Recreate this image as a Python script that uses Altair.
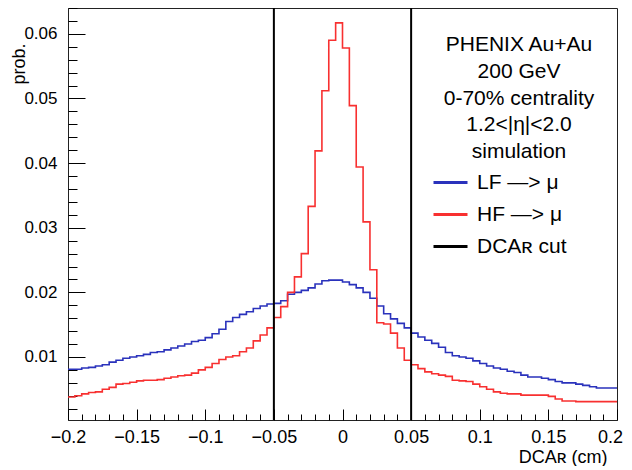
import altair as alt
import pandas as pd

# ---------------- data ----------------
x_min, x_max = -0.2, 0.2
bin_width = 0.005

# LF -> mu (blue), 80 bins of 0.005 cm from -0.2 to 0.2
lf_values = [
    0.0081, 0.0081, 0.0083, 0.0084, 0.0086, 0.0088, 0.0092, 0.0095, 0.0098, 0.0100,
    0.0102, 0.0104, 0.0107, 0.0108, 0.0111, 0.0114, 0.0117, 0.0120, 0.0124, 0.0126,
    0.0130, 0.0136, 0.0143, 0.0155, 0.0161, 0.0166, 0.0170, 0.0175, 0.0179, 0.0182,
    0.0183, 0.0187, 0.0197, 0.0200, 0.0203, 0.0207, 0.0213, 0.0218, 0.0219, 0.0219,
    0.0216, 0.0212, 0.0207, 0.0200, 0.0191, 0.0179, 0.0167, 0.0159, 0.0152, 0.0145,
    0.0137, 0.0131, 0.0126, 0.0121, 0.0115, 0.0107, 0.0102, 0.0100, 0.0098, 0.0094,
    0.0090, 0.0086, 0.0083, 0.0081, 0.0078, 0.0076, 0.0072, 0.0069, 0.0069, 0.0067,
    0.0065, 0.0062, 0.0060, 0.0060, 0.0058, 0.0056, 0.0054, 0.0052, 0.0052, 0.0052,
]

# HF -> mu (red)
hf_values = [
    0.0038, 0.0040, 0.0043, 0.0045, 0.0046, 0.0050, 0.0053, 0.0058, 0.0059, 0.0061,
    0.0063, 0.0064, 0.0064, 0.0065, 0.0067, 0.0069, 0.0071, 0.0072, 0.0075, 0.0080,
    0.0084, 0.0090, 0.0096, 0.0100, 0.0102, 0.0108, 0.0114, 0.0125, 0.0134, 0.0145,
    0.0161, 0.0178, 0.0200, 0.0224, 0.0260, 0.0333, 0.0419, 0.0512, 0.0590, 0.0617,
    0.0578, 0.0489, 0.0394, 0.0309, 0.0235, 0.0153, 0.0151, 0.0137, 0.0114, 0.0095,
    0.0088, 0.0082, 0.0077, 0.0074, 0.0072, 0.0070, 0.0064, 0.0063, 0.0062, 0.0058,
    0.0054, 0.0050, 0.0046, 0.0044, 0.0043, 0.0043, 0.0041, 0.0041, 0.0041, 0.0041,
    0.0039, 0.0035, 0.0032, 0.0032, 0.0031, 0.0031, 0.0031, 0.0031, 0.0031, 0.0031,
]

cut_positions = [-0.05, 0.05]

series_names = ["LF \u2014> \u03bc", "HF \u2014> \u03bc", "DCA\u0280 cut"]
series_colors = ["#2a32bc", "#f83030", "#000000"]

legend_title_lines = ["PHENIX Au+Au", "200 GeV", "0-70% centrality",
                      "1.2<|\u03b7|<2.0", "simulation"]

x_label_values = [-0.2, -0.15, -0.1, -0.05, 0, 0.05, 0.1, 0.15, 0.2]
y_label_values = [0.01, 0.02, 0.03, 0.04, 0.05, 0.06]
x_tick_values = [round(-0.2 + 0.01 * k, 2) for k in range(41)]
y_tick_values = [round(0.002 * k, 3) for k in range(1, 33)]

x_title = "DCA\u0280 (cm)"
y_title = "prob."

# ---------------- tables ----------------
edges = [round(x_min + bin_width * i, 3) for i in range(len(lf_values) + 1)]
rows = []
for name, vals in ((series_names[0], lf_values), (series_names[1], hf_values)):
    for e, v in zip(edges, list(vals) + [vals[-1]]):
        rows.append({"series": name, "x": e, "y": v})
hist = pd.DataFrame(rows)
cuts = pd.DataFrame({"series": series_names[2], "x": cut_positions})
note = pd.DataFrame({"text": [legend_title_lines]})

# ---------------- layout ----------------
W, H = 549, 412
FONT = "Liberation Sans"

x_scale = alt.Scale(domain=[x_min, x_max], nice=False, zero=False)
y_scale = alt.Scale(domain=[0.00025, 0.064], nice=False, zero=False)
color_scale = alt.Scale(domain=series_names, range=series_colors)

legend = alt.Legend(
    title=None, orient="none", legendX=364, legendY=156,
    labelFontSize=21, labelColor="black", labelFont=FONT, labelLimit=400,
    symbolType="stroke", symbolSize=1156, symbolStrokeWidth=3,
    labelOffset=8, rowPadding=3, padding=0,
)

x_label_axis = alt.Axis(
    values=x_label_values, format="~g", ticks=False, domain=False, grid=False,
    labelFontSize=18, labelPadding=8, labelFlush=False, labelColor="black",
    labelOffset={"condition": {"test": "datum.value > 0.19", "value": -7}, "value": 0},
    labelFont=FONT, title=x_title, titleFontSize=18, titleFontWeight="normal",
    titleFont=FONT, titleColor="black", titleAlign="right", titleBaseline="alphabetic",
    titleX=539, titleY=42,
)
y_label_axis = alt.Axis(
    values=y_label_values, format=".2f", ticks=False, domain=False, grid=False,
    labelFontSize=17, labelPadding=11, labelFlush=False, labelColor="black",
    labelFont=FONT, title=y_title, titleFontSize=18, titleFontWeight="normal",
    titleFont=FONT, titleColor="black", titleAngle=270, titleAlign="right",
    titleBaseline="middle", titleX=-49, titleY=35,
)
x_tick_axis = alt.Axis(
    orient="top", offset=-H, values=x_tick_values, labels=False, domain=False,
    grid=False, title=None, tickColor="black", tickWidth=1,
    tickSize={"condition": {"test": "abs(datum.value*20 - round(datum.value*20)) < 0.001",
                            "value": 11}, "value": 6},
)
y_tick_axis = alt.Axis(
    orient="right", offset=-W, values=y_tick_values, labels=False, domain=False,
    grid=False, title=None, tickColor="black", tickWidth=1,
    tickSize={"condition": {"test": "abs(datum.value*100 - round(datum.value*100)) < 0.001",
                            "value": 17}, "value": 9},
)

base = alt.Chart(hist)

lf_layer = base.transform_filter(alt.datum.series == series_names[0]).mark_line(
    interpolate="step-after", strokeWidth=1.6
).encode(
    x=alt.X("x:Q", scale=x_scale, axis=x_label_axis),
    y=alt.Y("y:Q", scale=y_scale, axis=y_label_axis),
    color=alt.Color("series:N", scale=color_scale, legend=legend),
)

hf_layer = base.transform_filter(alt.datum.series == series_names[1]).mark_line(
    interpolate="step-after", strokeWidth=1.6
).encode(
    x=alt.X("x:Q", scale=x_scale, axis=x_tick_axis),
    y=alt.Y("y:Q", scale=y_scale, axis=y_tick_axis),
    color=alt.Color("series:N", scale=color_scale),
)

cut_layer = alt.Chart(cuts).mark_rule(strokeWidth=2).encode(
    x=alt.X("x:Q", scale=x_scale, axis=None),
    color=alt.Color("series:N", scale=color_scale),
)

note_layer = alt.Chart(note).mark_text(
    align="center", baseline="top", fontSize=21, lineHeight=26.8,
    font=FONT, color="black",
).encode(
    text="text",
    x=alt.value(451),
    y=alt.value(26),
)

chart = (
    alt.layer(lf_layer, hf_layer, cut_layer, note_layer)
    .resolve_axis(x="independent", y="independent")
    .properties(
        width=W, height=H,
        autosize=alt.AutoSizeParams(type="none"),
        padding={"left": 60, "top": 0, "right": 7, "bottom": 46},
        background="white",
    )
    .configure(font=FONT)
    .configure_view(stroke="#222222", strokeWidth=1)
)

chart.save("out.html", embed_options={"renderer": "svg", "actions": False})
